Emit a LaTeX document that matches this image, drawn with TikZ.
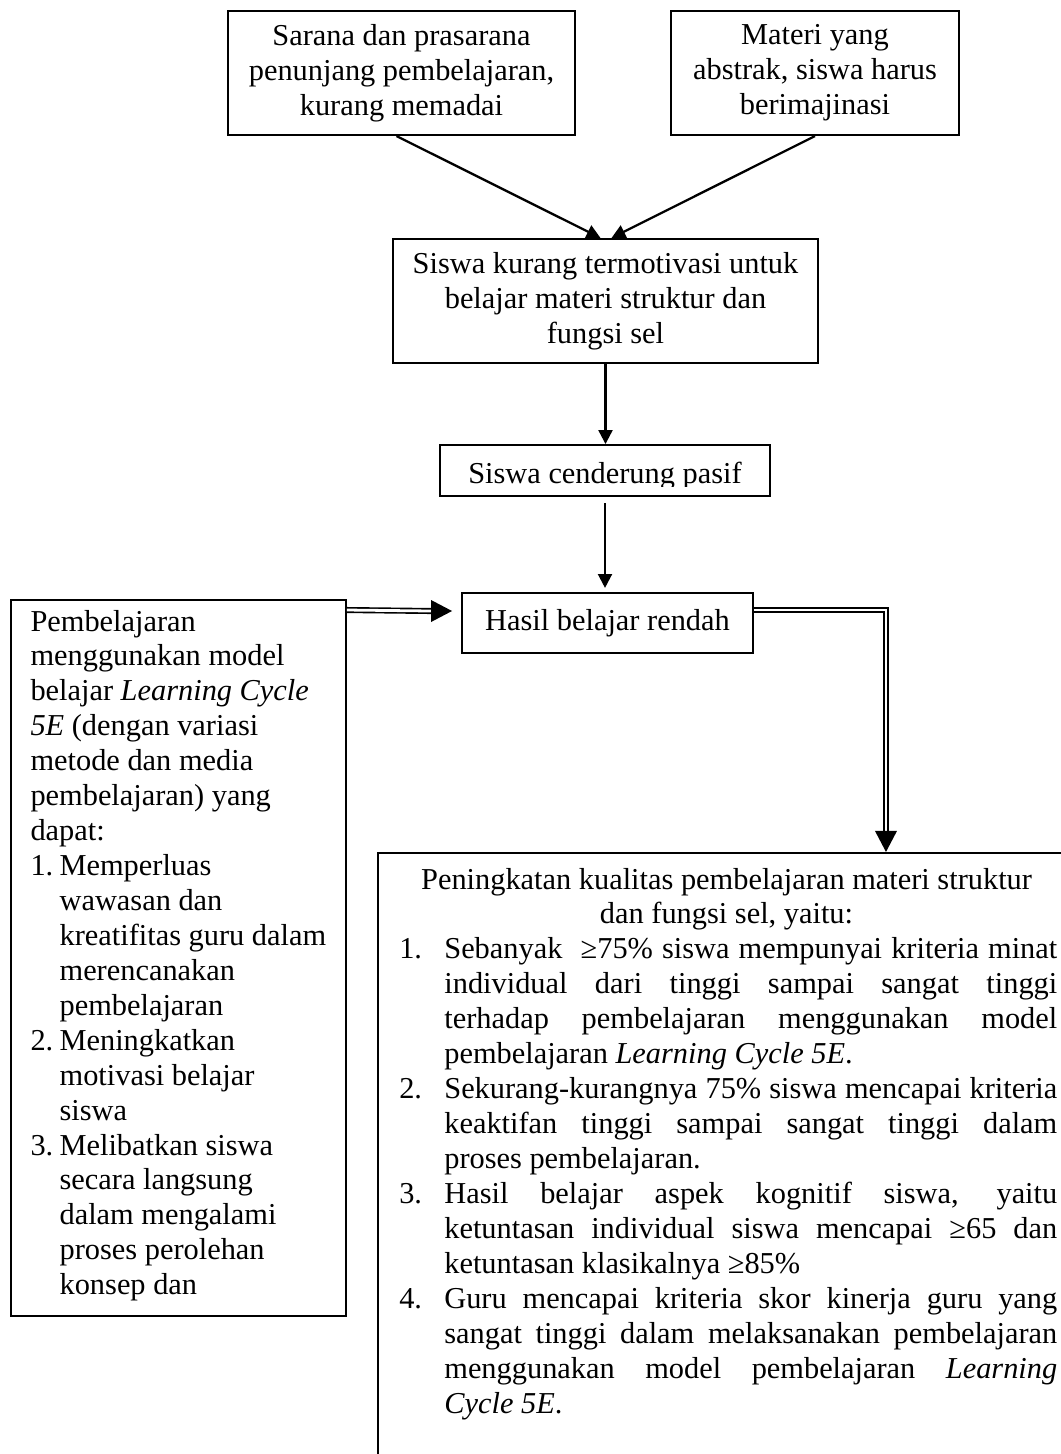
\documentclass[tikz,border=0pt]{standalone}
\usepackage{fontspec}
\setmainfont{Liberation Serif}
\usetikzlibrary{arrows.meta,calc}
\newcommand\bodyfont{\fontsize{12pt}{13.8pt}\selectfont}
\newcommand\Gline[3]{\hspace*{1.5pt}\makebox[17.8pt][l]{#1}\makebox[242.1pt][#2]{#3}}
\newcommand\Fitem[2]{\makebox[11.5pt][l]{#1}#2}
\begin{document}
\begin{tikzpicture}[x=0.395pt, y=-0.395pt,
  box/.style={draw, line width=0.8pt, inner sep=0pt, align=center, font=\bodyfont},
  txt/.style={inner sep=0pt, font=\bodyfont},
  arr/.style={line width=0.9pt, -{Triangle[length=5.5pt,width=5.5pt]}},
  dbl/.style={double, line width=0.65pt, double distance=1.1pt}]
\useasboundingbox (0,0) rectangle (1061,1454);
\clip (0,0) rectangle (1061,1454);
\fill[white] (0,0) rectangle (1061,1454);

% boxes
\node[box, minimum width=137.1pt, minimum height=49pt] (A) at (401.5,73)
  {Sarana dan prasarana\\penunjang pembelajaran,\\kurang memadai};
\node[box, minimum width=113.8pt, minimum height=49pt] (B) at (815,73)
  {Materi yang\\abstrak, siswa harus\\berimajinasi};
\node[box, minimum width=167.9pt, minimum height=49pt] (C) at (605.5,301)
  {Siswa kurang termotivasi untuk\\belajar materi struktur dan\\fungsi sel};
\node[box, minimum width=130.4pt, minimum height=20.1pt] (D) at (605,470.5) {};
\begin{scope}
  \clip (440,440) rectangle (770,486);
  \node[txt, anchor=base] (Dtext) at (605,483.5) {Siswa cenderung pasif};
\end{scope}
\node[box, minimum width=114.9pt, minimum height=23.7pt] (E) at (607.5,623)
  {Hasil belajar rendah};
\node[box, minimum width=132.3pt, minimum height=282.8pt] (F) at (178.5,958) {};
\node[txt, anchor=base west] (Ftext) at (30,631) {\parbox[t]{130pt}{\raggedright
Pembelajaran\\
menggunakan model\\
belajar \textit{Learning Cycle}\\
\textit{5E} (dengan variasi\\
metode dan media\\
pembelajaran) yang\\
dapat:\\
\Fitem{1.}{Memperluas}\\
\hspace*{11.5pt}wawasan dan\\
\hspace*{11.5pt}kreatifitas guru dalam\\
\hspace*{11.5pt}merencanakan\\
\hspace*{11.5pt}pembelajaran\\
\Fitem{2.}{Meningkatkan}\\
\hspace*{11.5pt}motivasi belajar\\
\hspace*{11.5pt}siswa\\
\Fitem{3.}{Melibatkan siswa}\\
\hspace*{11.5pt}secara langsung\\
\hspace*{11.5pt}dalam mengalami\\
\hspace*{11.5pt}proses perolehan\\
\hspace*{11.5pt}konsep dan}};
\node[box, minimum width=285.2pt, minimum height=255.6pt] (G) at (739,1176.5) {};
\node[txt, anchor=base west] (Gtext) at (395,889) {\parbox[t]{261.5pt}{%
\makebox[261.5pt][c]{Peningkatan kualitas pembelajaran materi struktur}\\
\makebox[261.5pt][c]{dan fungsi sel, yaitu:}\\
\Gline{1.}{s}{Sebanyak\ \ ≥75\% siswa mempunyai kriteria minat}\\
\Gline{}{s}{individual dari tinggi sampai sangat tinggi}\\
\Gline{}{s}{terhadap pembelajaran menggunakan model}\\
\Gline{}{l}{pembelajaran \textit{Learning Cycle 5E}.}\\
\Gline{2.}{s}{Sekurang-kurangnya 75\% siswa mencapai kriteria}\\
\Gline{}{s}{keaktifan tinggi sampai sangat tinggi dalam}\\
\Gline{}{l}{proses pembelajaran.}\\
\Gline{3.}{s}{Hasil belajar aspek kognitif siswa, yaitu}\\
\Gline{}{s}{ketuntasan individual siswa mencapai ≥65 dan}\\
\Gline{}{l}{ketuntasan klasikalnya ≥85\%}\\
\Gline{4.}{s}{Guru mencapai kriteria skor kinerja guru yang}\\
\Gline{}{s}{sangat tinggi dalam melaksanakan pembelajaran}\\
\Gline{}{s}{menggunakan model pembelajaran \textit{Learning}}\\
\Gline{}{l}{\textit{Cycle 5E}.}}};

% single arrows
\draw[arr] ($(A.south)+(-5,0)$) -- ($(C.north)+(-5,0)$);
\draw[arr] (B.south) -- ($(C.north)+(6,0)$);
\draw[arr] (C.south) -- (C.south |- D.north);
\draw[arr, shorten <=2.4pt, shorten >=1.6pt] (D.south) -- (D.south |- E.north);

% double arrows
\draw[dbl] ($(F.north east)+(0,11)$) -- ($(E.west)+(-30,-12)$);
\fill ($(E.west)+(-9,-12)$) -- ++(-21,-11) -- ++(0,22) -- cycle;
\draw[dbl] ($(E.north east)+(0,18)$) -| ($(G.north west)+(509,-21)$);
\fill ($(G.north west)+(509,0)$) -- ++(-11,-21) -- ++(22,0) -- cycle;
\end{tikzpicture}
\end{document}
